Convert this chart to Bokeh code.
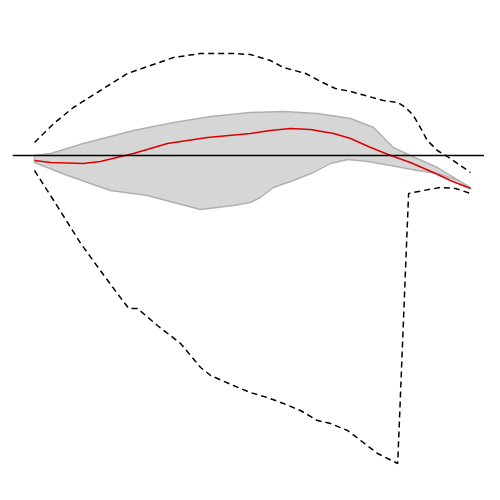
from bokeh.plotting import figure
from bokeh.models import Range1d, Span
from bokeh.embed import file_html
from bokeh.resources import INLINE

# Upper dashed envelope
up_x = [0, 4.4, 8.9, 15.1, 21.3, 26.6, 31.9, 38.1, 45.6, 49.5, 54.1, 57.1, 62.2, 66.1, 69.0, 72.5, 80.0, 83.3, 85.1, 86.9, 88.5, 90.1, 92.4, 95.4, 100]
up_y = [0.13, 0.32, 0.48, 0.65, 0.82, 0.90, 0.98, 1.02, 1.02, 1.01, 0.95, 0.88, 0.82, 0.73, 0.67, 0.64, 0.55, 0.53, 0.48, 0.40, 0.28, 0.15, 0.05, -0.03, -0.17]

# Lower dashed envelope
lo_x = [0, 4.4, 10.6, 15.1, 19.0, 21.6, 23.6, 28.2, 33.5, 38.1, 40.4, 45.6, 49.5, 53.4, 57.1, 61.0, 64.9, 67.9, 71.8, 74.8, 78.7, 83.3, 85.8, 89.2, 93.1, 96.6, 100]
lo_y = [-0.15, -0.45, -0.88, -1.15, -1.38, -1.53, -1.53, -1.70, -1.88, -2.12, -2.20, -2.30, -2.37, -2.42, -2.48, -2.55, -2.65, -2.68, -2.75, -2.85, -2.98, -3.08, -0.38, -0.35, -0.32, -0.33, -0.38]

# Gray band upper / lower edges
bu_x = [0, 3.7, 11.2, 22.7, 31.9, 40.4, 49.5, 57.1, 64.9, 72.5, 77.8, 80.0, 82.3, 86.2, 92.4, 100]
bu_y = [0.0, 0.02, 0.12, 0.25, 0.33, 0.39, 0.43, 0.44, 0.42, 0.37, 0.28, 0.18, 0.08, 0.0, -0.12, -0.32]
bl_x = [0, 7.6, 17.4, 25.9, 31.9, 38.1, 45.6, 49.5, 51.8, 54.8, 59.4, 64.0, 67.9, 71.8, 76.4, 81.7, 87.8, 92.4, 97.0, 100]
bl_y = [-0.07, -0.20, -0.35, -0.40, -0.47, -0.54, -0.50, -0.47, -0.42, -0.32, -0.25, -0.17, -0.08, -0.04, -0.06, -0.10, -0.15, -0.18, -0.25, -0.33]

# Red central line
r_x = [0, 3.7, 11.2, 15.1, 22.7, 30.5, 39.7, 49.5, 54.1, 58.7, 63.3, 68.6, 72.5, 77.1, 81.7, 86.2, 91.5, 95.4, 100]
r_y = [-0.05, -0.07, -0.08, -0.06, 0.02, 0.12, 0.18, 0.22, 0.25, 0.27, 0.26, 0.22, 0.17, 0.08, 0.0, -0.07, -0.17, -0.25, -0.33]

p = figure(width=484, height=484, output_backend="svg", toolbar_location=None,
           x_range=Range1d(-5.05, 103.21), y_range=Range1d(-3.29, 1.55),
           min_border_left=12, min_border_right=0, min_border_top=0, min_border_bottom=0)
p.axis.visible = False
p.grid.visible = False
p.outline_line_color = None

p.patch(bu_x + bl_x[::-1], bu_y + bl_y[::-1], fill_color="#d6d6d6", line_color="#b0b0b0", line_width=1.4)
p.add_layout(Span(location=0, dimension="width", line_color="black", line_width=1.5))
p.line(r_x, r_y, line_color="#dd0000", line_width=1.5)
p.line(up_x, up_y, line_color="black", line_width=1.5, line_dash="6 4")
p.line(lo_x, lo_y, line_color="black", line_width=1.5, line_dash="6 4")

open("out.html", "w").write(file_html(p, INLINE))
